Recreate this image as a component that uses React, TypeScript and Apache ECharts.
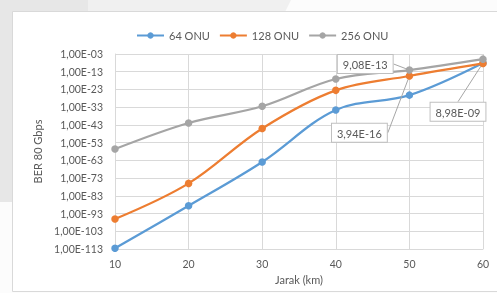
import React, { useEffect, useRef } from "react";
import * as echarts from "echarts";

// Jarak (km)
const distances = [10, 20, 30, 40, 50, 60];
// BER as log10 exponents
const ber64 = [-112.6, -88.6, -63.9, -34.6, -26.2, -8.05];
const ber128 = [-96.1, -76.0, -45.0, -23.5, -15.4, -8.3];
const ber256 = [-56.6, -41.9, -32.5, -17.1, -12.04, -5.9];
const seriesNames = ["64 ONU", "128 ONU", "256 ONU"];
const seriesColors = ["#5b9bd5", "#ed7d31", "#a5a5a5"];
// annotated points: [seriesIndex, dataIndex, text]
const annotations: [number, number, string][] = [
  [2, 4, "9,08E-13"],
  [1, 4, "3,94E-16"],
  [0, 5, "8,98E-09"],
];
const yMinExp = -113;
const yMaxExp = -3;

const FONT = "Lato, 'Open Sans', sans-serif";
const TXT = "#595959";

export default function App() {
  const ref = useRef<HTMLDivElement>(null);
  useEffect(() => {
    if (!ref.current) return;
    const chart = echarts.init(ref.current, null, { renderer: "svg" });
    const all = [ber64, ber128, ber256];
    const labelPlace: Record<string, any> = {
      "2-4": { position: "left", dx: -8, dy: -6 },
      "1-4": { position: "bottom", dx: -50, dy: 39 },
      "0-5": { position: "bottom", dx: -25, dy: 31 },
    };
    const series = all.map((arr, si) => ({
      name: seriesNames[si],
      type: "line",
      smooth: 0.35,
      symbol: "circle",
      symbolSize: 7.5,
      itemStyle: { color: seriesColors[si] },
      lineStyle: { color: seriesColors[si], width: 2.25 },
      data: arr.map((e, i) => {
        const ann = annotations.find((a) => a[0] === si && a[1] === i);
        const item: any = { value: [distances[i], e - yMinExp] };
        if (ann) {
          const p = labelPlace[si + "-" + i];
          item.label = {
            show: true,
            position: p.position,
            formatter: ann[2],
            fontFamily: FONT,
            fontSize: 11,
            color: TXT,
            backgroundColor: "#ffffff",
            borderColor: "#bfbfbf",
            borderWidth: 1,
            padding: [4, 5, 3, 5],
          };
          item.labelLine = { show: true, lineStyle: { color: "#a6a6a6", width: 1 } };
        }
        return item;
      }),
      labelLine: { show: true, lineStyle: { color: "#a6a6a6", width: 1 } },
      labelLayout: (params: any) => {
        const p = labelPlace[si + "-" + params.dataIndex];
        if (!p) return {};
        return { dx: p.dx, dy: p.dy };
      },
      z: 3 + si,
    }));

    chart.setOption({
      animation: false,
      backgroundColor: "transparent",
      graphic: [
        { type: "rect", shape: { x: 0, y: 0, width: 497, height: 293 }, style: { fill: "#fcfcfc" }, z: -10, silent: true },
        { type: "polygon", shape: { points: [[0, 0], [291, 0], [285, 12], [0, 12]] }, style: { fill: "#f0f0f0" }, z: -9, silent: true },
        { type: "rect", shape: { x: 0, y: 0, width: 88, height: 12 }, style: { fill: "#e7e7e7" }, z: -8, silent: true },
        { type: "rect", shape: { x: 0, y: 0, width: 12, height: 202 }, style: { fill: "#e7e7e7" }, z: -8, silent: true },
        { type: "rect", shape: { x: 12.5, y: 11.5, width: 500, height: 280 }, style: { fill: "#ffffff", stroke: "#d9d9d9", lineWidth: 1 }, z: -7, silent: true },
      ],
      legend: {
        top: 25,
        left: 131,
        itemWidth: 27,
        itemHeight: 8,
        itemGap: 9,
        data: seriesNames,
        textStyle: { fontFamily: FONT, fontSize: 11, color: TXT },
      },
      grid: { left: 115, right: 14, top: 54, bottom: 44 },
      xAxis: {
        type: "value",
        min: 10,
        max: 60,
        interval: 10,
        name: "Jarak (km)",
        nameLocation: "middle",
        nameGap: 21,
        nameTextStyle: { fontFamily: FONT, fontSize: 11, color: TXT },
        axisLine: { show: true, lineStyle: { color: "#d9d9d9" } },
        axisTick: { show: false },
        axisLabel: { fontFamily: FONT, fontSize: 10.5, color: TXT, margin: 9 },
        splitLine: { show: true, lineStyle: { color: "#d9d9d9" } },
      },
      yAxis: {
        type: "value",
        min: 0,
        max: yMaxExp - yMinExp,
        interval: 10,
        name: "BER 80 Gbps",
        nameLocation: "middle",
        nameGap: 70,
        nameTextStyle: { fontFamily: FONT, fontSize: 11, color: TXT },
        axisLine: { show: true, lineStyle: { color: "#d9d9d9" } },
        axisTick: { show: false },
        axisLabel: {
          fontFamily: FONT,
          fontSize: 10.5,
          color: TXT,
          margin: 12,
          formatter: (v: number) => {
            const e = Math.round(v + yMinExp);
            const a = Math.abs(e);
            return "1,00E-" + (a < 10 ? "0" + a : String(a));
          },
        },
        splitLine: { show: true, lineStyle: { color: "#d9d9d9" } },
      },
      series,
    });
    return () => chart.dispose();
  }, []);
  return (
    <div
      ref={ref}
      style={{ position: "fixed", left: 0, top: 0, width: 497, height: 293 }}
    />
  );
}
